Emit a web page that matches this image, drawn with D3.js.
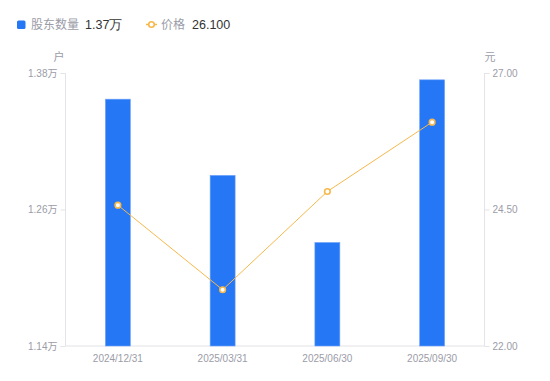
<!DOCTYPE html>
<html><head><meta charset="utf-8">
<script src="https://cdn.jsdelivr.net/npm/d3@7/dist/d3.min.js"></script>
<style>body{margin:0;background:#fff;}svg{display:block;font-family:"Noto Sans CJK SC","Noto Sans",sans-serif;}</style>
</head><body><svg id="c" width="550" height="381"></svg>
<script>
const categories = ["2024/12/31","2025/03/31","2025/06/30","2025/09/30"];
const holders = [1.357, 1.290, 1.231, 1.374]; // 万户
const prices = [24.58, 23.03, 24.83, 26.10];
const leftTicks = [1.14, 1.26, 1.38];
const rightTicks = [22.00, 24.50, 27.00];

const svg = d3.select("#c");
const L = 65.5, R = 484.5, T = 73, B = 346;
const x = d3.scaleBand().domain(categories).range([L, R]);
const yL = d3.scaleLinear().domain([1.14, 1.38]).range([B, T]);
const yR = d3.scaleLinear().domain([22, 27]).range([B, T]);
const gray = "#9b9ca8";
const axisCol = "#e3e3e8";

// axes
const gl = svg.append("g").attr("transform", `translate(${L},0)`)
  .call(d3.axisLeft(yL).tickValues(leftTicks).tickSize(5).tickPadding(3).tickFormat(d => d.toFixed(2) + "万"));
const gr = svg.append("g").attr("transform", `translate(${R},0)`)
  .call(d3.axisRight(yR).tickValues(rightTicks).tickSize(5).tickPadding(3).tickFormat(d => d.toFixed(2)));
const gx = svg.append("g").attr("transform", `translate(0,${B})`)
  .call(d3.axisBottom(x).tickSize(0).tickPadding(8.5));
[gl, gr, gx].forEach(g => {
  g.selectAll(".domain").attr("stroke", axisCol);
  g.selectAll(".tick line").attr("stroke", axisCol);
  g.selectAll("text").attr("fill", gray).style("font-size", "10px").style("font-family", "'Liberation Sans',Arial,'Noto Sans CJK SC',sans-serif");
});
gl.select(".domain").attr("d", `M0,${T}V${B}`);
gr.select(".domain").attr("d", `M0,${T}V${B}`);
gx.select(".domain").attr("d", `M${L},0H${R}`);

svg.append("text").attr("x", 59).attr("y", 61).attr("text-anchor", "middle").attr("fill", gray).style("font-size", "11px").text("户");
svg.append("text").attr("x", 490).attr("y", 61).attr("text-anchor", "middle").attr("fill", gray).style("font-size", "11px").text("元");

// bars
const bw = 25;
svg.append("g").selectAll("rect").data(holders).join("rect")
  .attr("x", (d, i) => x(categories[i]) + x.bandwidth() / 2 - bw / 2)
  .attr("width", bw)
  .attr("y", d => yL(d))
  .attr("height", d => B - yL(d))
  .attr("fill", "#2577f6")
  .attr("stroke", "#6fa6f9").attr("stroke-width", 0.6);

// line
const cx = (i) => x(categories[i]) + x.bandwidth() / 2;
svg.append("path").datum(prices)
  .attr("d", d3.line().x((d, i) => cx(i)).y(d => yR(d)))
  .attr("fill", "none").attr("stroke", "#f7b84b").attr("stroke-width", 1);
svg.append("g").selectAll("circle").data(prices).join("circle")
  .attr("cx", (d, i) => cx(i)).attr("cy", d => yR(d)).attr("r", 2.8)
  .attr("fill", "#fff").attr("stroke", "#f7b84b").attr("stroke-width", 1.6);

// legend
const lg = svg.append("g");
lg.append("rect").attr("x", 17).attr("y", 20.5).attr("width", 8.5).attr("height", 8.5).attr("rx", 1.5).attr("fill", "#2577f6");
lg.append("text").attr("x", 31).attr("y", 29).attr("fill", gray).style("font-size", "12px").text("股东数量");
lg.append("text").attr("x", 85).attr("y", 29).attr("fill", "#333").style("font-size", "12.5px").style("font-family", "'Liberation Sans',Arial,sans-serif").text(holders[3].toFixed(2) + "万");
lg.append("line").attr("x1", 146).attr("x2", 157).attr("y1", 24.5).attr("y2", 24.5).attr("stroke", "#f7b84b").attr("stroke-width", 1.5);
lg.append("circle").attr("cx", 151.5).attr("cy", 24.5).attr("r", 2.8).attr("fill", "#fff").attr("stroke", "#f7b84b").attr("stroke-width", 1.6);
lg.append("text").attr("x", 161).attr("y", 29).attr("fill", gray).style("font-size", "12px").text("价格");
lg.append("text").attr("x", 192).attr("y", 29).attr("fill", "#333").style("font-size", "12.5px").style("font-family", "'Liberation Sans',Arial,sans-serif").text(prices[3].toFixed(3));
</script></body></html>
